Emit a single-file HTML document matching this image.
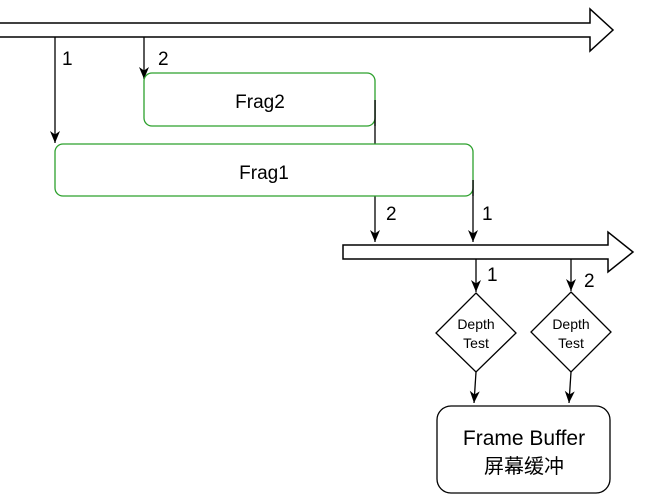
<!DOCTYPE html>
<html><head><meta charset="utf-8"><style>body{margin:0;background:#fff}svg{display:block}</style></head><body>
<svg width="663" height="504" viewBox="0 0 663 504" xmlns="http://www.w3.org/2000/svg" font-family="Liberation Sans, Noto Sans CJK SC, sans-serif">
<defs><marker id="a" markerWidth="14" markerHeight="14" refX="12" refY="6" orient="auto" markerUnits="userSpaceOnUse"><path d="M0,1 L12,6 L0,11 L3.5,6 Z" fill="#000"/></marker></defs>
<g fill="#fff" stroke="#000" stroke-width="1.5">
<path d="M-2,23 H590 V9 L613,30 L590,51 V37 H-2 Z"/>
<path d="M343,245 H608 V232 L633,252 L608,272 V259 H343 Z"/>
</g>
<g stroke="#000" stroke-width="1.3" fill="none" marker-end="url(#a)">
<path d="M55,37 V143"/>
<path d="M144,37 V79"/>
<path d="M375,100 V242"/>
<path d="M473,180 V242"/>
<path d="M476,259 V292"/>
<path d="M571,259 V291"/>
<path d="M476,372 L474,403"/>
<path d="M571,372 L569,403"/>
</g>
<rect x="144" y="73" width="231" height="53" rx="8" fill="#fff" stroke="#2ca02c" stroke-width="1.3"/>
<rect x="55" y="144" width="418" height="52" rx="8" fill="#fff" stroke="#2ca02c" stroke-width="1.3"/>
<path d="M375,100 V126" stroke="#000" stroke-width="1.3"/>
<path d="M473,180 V196" stroke="#000" stroke-width="1.3"/>
<g fill="#fff" stroke="#000" stroke-width="1.3">
<path d="M476,293 L516,333 L476,372 L436,333 Z"/>
<path d="M571,292 L611,332 L571,372 L531,332 Z"/>
<rect x="437" y="406" width="173" height="87" rx="14"/>
</g>
<g font-size="19" fill="#000">
<text x="62" y="65">1</text><text x="158" y="65">2</text>
<text x="386" y="220">2</text><text x="482" y="220">1</text>
<text x="487" y="281">1</text><text x="584" y="287">2</text>
</g>
<g font-size="19" text-anchor="middle" fill="#000">
<text x="260" y="108">Frag2</text><text x="264" y="179">Frag1</text>
</g>
<g font-size="14" text-anchor="middle" fill="#000">
<text x="476" y="329">Depth</text><text x="476" y="348">Test</text>
<text x="571" y="329">Depth</text><text x="571" y="348">Test</text>
</g>
<text x="524" y="445" font-size="21" text-anchor="middle">Frame Buffer</text>
<text x="524" y="473" font-size="20" text-anchor="middle">屏幕缓冲</text>
</svg>
</body></html>
